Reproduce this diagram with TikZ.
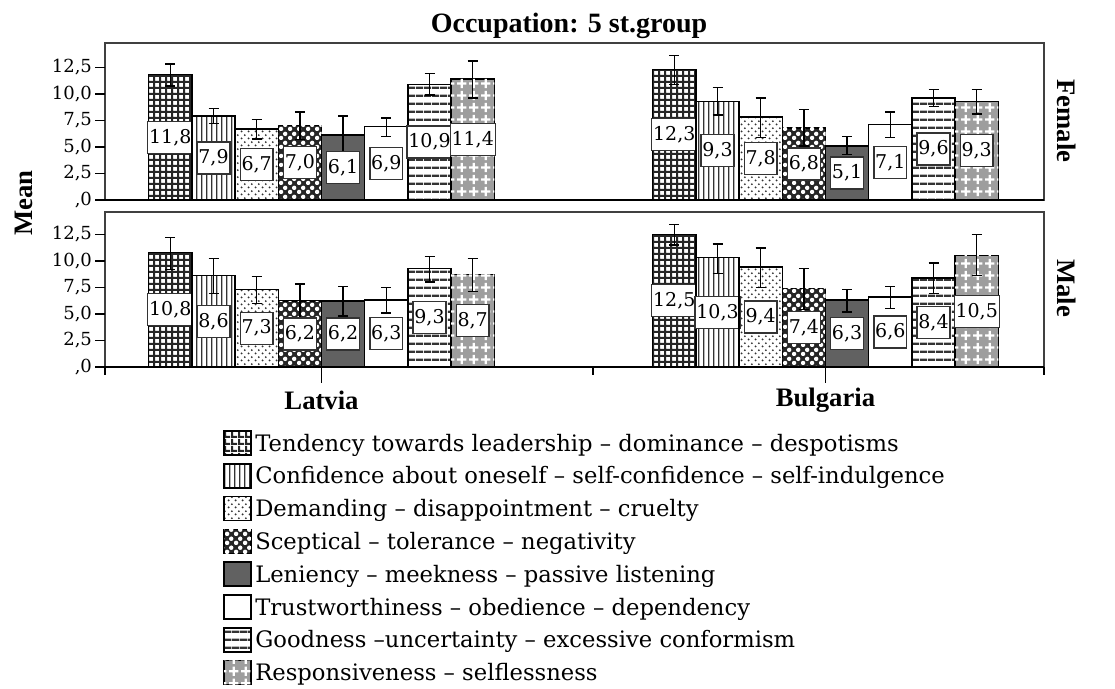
\documentclass[tikz,border=0pt]{standalone}
\usepackage{fontspec}
\setmainfont{DejaVu Serif}
\newfontfamily\timesfont{Liberation Serif}
\usetikzlibrary{patterns}

% fill patterns of the eight bars
\pgfdeclarepatternformonly{gridcells}{\pgfpointorigin}{\pgfpoint{4.8pt}{4.8pt}}{\pgfpoint{4.8pt}{4.8pt}}{%
  \pgfpathrectangle{\pgfpointorigin}{\pgfpoint{4.8pt}{1.7pt}}%
  \pgfpathrectangle{\pgfpointorigin}{\pgfpoint{1.7pt}{4.8pt}}%
  \pgfusepath{fill}}
\pgfdeclarepatternformonly{vstripes}{\pgfpointorigin}{\pgfpoint{4pt}{4pt}}{\pgfpoint{4pt}{4pt}}{%
  \pgfpathrectangle{\pgfpointorigin}{\pgfpoint{1.1pt}{4pt}}%
  \pgfusepath{fill}}
\pgfdeclarepatternformonly{hstripes}{\pgfpointorigin}{\pgfpoint{6pt}{6pt}}{\pgfpoint{6pt}{6pt}}{%
  \pgfpathrectangle{\pgfpointorigin}{\pgfpoint{6pt}{1.9pt}}%
  \pgfusepath{fill}}
\pgfdeclarepatternformonly{smalldots}{\pgfpointorigin}{\pgfpoint{5pt}{5pt}}{\pgfpoint{5pt}{5pt}}{%
  \pgfpathcircle{\pgfpoint{1.25pt}{1.25pt}}{0.8pt}%
  \pgfpathcircle{\pgfpoint{3.75pt}{3.75pt}}{0.8pt}%
  \pgfusepath{fill}}
\pgfdeclarepatternformonly{ringdots}{\pgfpointorigin}{\pgfpoint{6.75pt}{6.75pt}}{\pgfpoint{6.75pt}{6.75pt}}{%
  \pgfpathcircle{\pgfpoint{1.7pt}{1.7pt}}{1.8pt}%
  \pgfpathcircle{\pgfpoint{5.05pt}{5.05pt}}{1.8pt}%
  \pgfusepath{fill}}
\pgfdeclarepatternformonly{crosses}{\pgfpointorigin}{\pgfpoint{9pt}{9pt}}{\pgfpoint{9pt}{9pt}}{%
  \pgfpathrectangle{\pgfpoint{0.8pt}{3.6pt}}{\pgfpoint{7.4pt}{1.8pt}}%
  \pgfpathrectangle{\pgfpoint{3.6pt}{0.8pt}}{\pgfpoint{1.8pt}{7.4pt}}%
  \pgfusepath{fill}}

\tikzset{
  frame/.style={draw=black!75, line width=1.1pt},
  axis/.style={draw=black, line width=1.4pt},
  barbox/.style={draw=black, line width=1.1pt},
  bar1/.style={pattern=gridcells, pattern color=black!85},
  bar2/.style={pattern=vstripes, pattern color=black!80},
  bar3/.style={pattern=smalldots, pattern color=black!80},
  bar4/.style={fill=black!85, postaction={pattern=ringdots, pattern color=white}},
  bar5/.style={fill=black!62},
  bar6/.style={fill=white},
  bar7/.style={pattern=hstripes, pattern color=black!80},
  bar8/.style={fill=black!38, postaction={pattern=crosses, pattern color=white}},
  errbar/.style={draw=black, line width=1.1pt},
  vallabel/.style={draw=black!80, fill=white, line width=1pt, inner xsep=1pt,
    inner ysep=0pt, minimum height=24pt, font=\fontsize{14.25pt}{16pt}\selectfont},
  ticklabel/.style={anchor=east, inner sep=1pt, font=\fontsize{13.5pt}{15pt}\selectfont},
  boldlabel/.style={font=\timesfont\bfseries\fontsize{20pt}{23pt}\selectfont},
  legtext/.style={anchor=base west, inner sep=0pt, font=\fontsize{17pt}{19pt}\selectfont}
}

% one group of eight bars: left x, zero y, name prefix, data
\newcommand{\drawgroup}[4]{%
  \foreach \i/\v/\lo/\hi/\lab in {#4}{
    \pgfmathsetmacro{\xl}{#1+(\i-1)*43.2}
    \pgfmathsetmacro{\xc}{\xl+21.6}
    \path[barbox, bar\i] (\xl,#2) rectangle ({\xl+43.2},{#2-\v*10.62});
    \draw[errbar] (\xc,{#2-\lo*10.62}) -- (\xc,{#2-\hi*10.62})
      ({\xc-5},{#2-\lo*10.62}) -- ++(10,0)
      ({\xc-5},{#2-\hi*10.62}) -- ++(10,0);
    \node[vallabel] (#3-\i) at (\xc,{#2-\v*5.31}) {\lab};
  }}

\begin{document}
\begin{tikzpicture}[x=0.75pt, y=-0.75pt]
\useasboundingbox (0,0) rectangle (1115,689);

\node[boldlabel, font=\timesfont\bfseries\fontsize{21pt}{24pt}\selectfont, anchor=base] (title) at (569,32) {Occupation: 5 st.group};
\node[boldlabel, rotate=90] (mean) at (24,203) {Mean};
\node[boldlabel, rotate=-90] (female) at (1067,121) {Female};
\node[boldlabel, rotate=-90] (male) at (1067,288) {Male};

% panels
\draw[frame] (105,43) rectangle (1044,200);
\draw[frame] (105,212) rectangle (1044,367);
\foreach \y in {200,367}{
  \foreach \v/\lab in {0/{,0},2.5/{2,5},5/{5,0},7.5/{7,5},10/{10,0},12.5/{12,5}}{
    \draw[errbar] (95,{\y-\v*10.62}) -- (105,{\y-\v*10.62})
      node[ticklabel] (tick-\y-\v) at (94,{\y-\v*10.62}) {\lab};
  }
}

% female
\drawgroup{148.7}{200}{lvf}{1/11.8/10.75/12.8/{11,8}, 2/7.9/7.2/8.6/{7,9}, 3/6.7/5.75/7.6/{6,7},
  4/7.0/5.7/8.3/{7,0}, 5/6.1/4.3/7.9/{6,1}, 6/6.9/6.0/7.7/{6,9}, 7/10.9/9.9/11.9/{10,9}, 8/11.4/9.6/13.1/{11,4}}
\drawgroup{652.7}{200}{bgf}{1/12.3/10.9/13.6/{12,3}, 2/9.3/8.0/10.6/{9,3}, 3/7.8/5.9/9.6/{7,8},
  4/6.8/5.1/8.5/{6,8}, 5/5.1/4.3/6.0/{5,1}, 6/7.1/5.9/8.3/{7,1}, 7/9.6/8.8/10.4/{9,6}, 8/9.3/8.1/10.4/{9,3}}
% male
\drawgroup{148.7}{367}{lvm}{1/10.8/9.2/12.2/{10,8}, 2/8.6/6.9/10.2/{8,6}, 3/7.3/6.0/8.5/{7,3},
  4/6.2/4.6/7.8/{6,2}, 5/6.2/4.8/7.6/{6,2}, 6/6.3/5.1/7.5/{6,3}, 7/9.3/8.0/10.4/{9,3}, 8/8.7/7.1/10.2/{8,7}}
\drawgroup{652.7}{367}{bgm}{1/12.5/11.5/13.4/{12,5}, 2/10.3/8.8/11.6/{10,3}, 3/9.4/7.5/11.2/{9,4},
  4/7.4/5.4/9.3/{7,4}, 5/6.3/5.2/7.3/{6,3}, 6/6.6/5.5/7.6/{6,6}, 7/8.4/6.9/9.8/{8,4}, 8/10.5/8.6/12.5/{10,5}}

\draw[axis] (105,200) -- (1044,200);
\draw[axis] (105,367) -- (1044,367);
\draw[errbar] (105,367) -- (105,375) (593,367) -- (593,375) (1044,367) -- (1044,375)
  (321.5,367) -- (321.5,383) (825.5,367) -- (825.5,383);
\node[boldlabel] (latvia) at (321.5,400) {Latvia};
\node[boldlabel] (bulgaria) at (825.5,400) {Bulgaria};

% legend
\foreach \k/\lab in {1/{Tendency towards leadership – dominance – despotisms},
  2/{Confidence about oneself – self-confidence – self-indulgence},
  3/{Demanding – disappointment – cruelty},
  4/{Sceptical – tolerance – negativity},
  5/{Leniency – meekness – passive listening},
  6/{Trustworthiness – obedience – dependency},
  7/{Goodness –uncertainty – excessive conformism},
  8/{Responsiveness – selflessness}}{
  \path[barbox, bar\k] (224,{443+(\k-1)*32.8-12}) rectangle (251,{443+(\k-1)*32.8+12});
  \node[legtext] (leg-\k) at (255,{443+(\k-1)*32.8+8}) {\lab};
}
\end{tikzpicture}
\end{document}
